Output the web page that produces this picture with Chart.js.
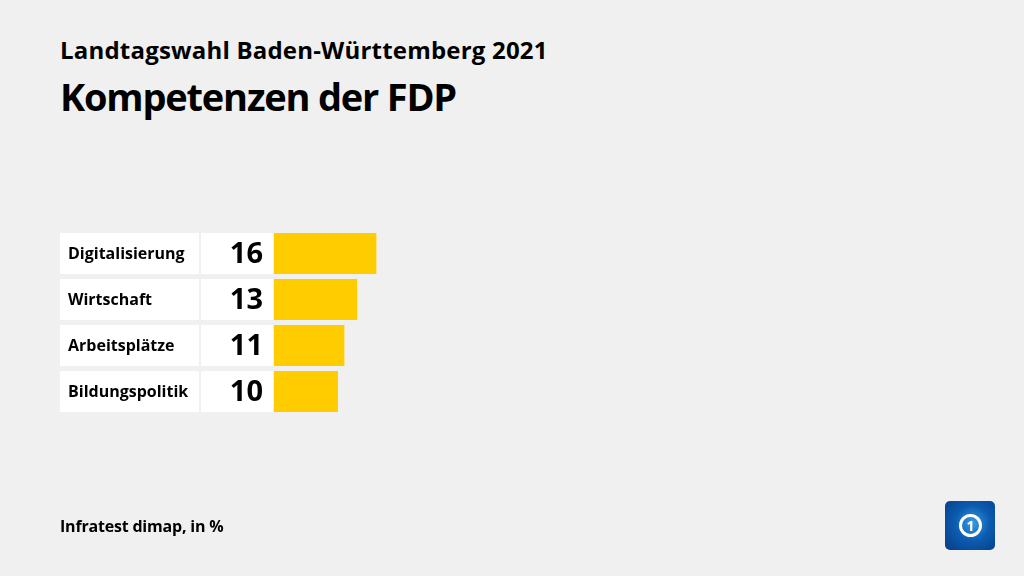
<!DOCTYPE html>
<html>
<head>
<meta charset="utf-8">
<script src="https://cdn.jsdelivr.net/npm/chart.js@4"></script>
<style>
    html, body {
        margin: 0;
        padding: 0;
        background: #f0f0f0;
        font-family: 'Open Sans', sans-serif;
    }
    #wrap {
        position: relative;
        width: 1024px;
        height: 576px;
        overflow: hidden;
    }
    #chart {
        position: absolute;
        left: 0;
        top: 0;
    }
    .txt {
        position: absolute;
        left: 60px;
        color: #000;
        white-space: nowrap;
        font-weight: 700;
    }
    #subtitle { top: 33px; font-size: 24px; letter-spacing: 0.2px; }
    #title { top: 70px; font-size: 38px; letter-spacing: -1.2px; }
    #source { top: 515px; font-size: 16px; letter-spacing: -0.2px; }
    #logo {
        position: absolute;
        left: 945px;
        top: 501px;
        width: 50px;
        height: 49px;
        border-radius: 5px;
        background: radial-gradient(circle at 55% 45%, #3a9be0 0%, #0b5cb0 45%, #063c86 100%);
    }
    #logo-ring {
        position: absolute;
        left: 14px;
        top: 13px;
        width: 17px;
        height: 17px;
        border: 3px solid #fff;
        border-radius: 50%;
        color: #fff;
        font: bold 14px 'Open Sans', sans-serif;
        text-align: center;
        line-height: 17px;
    }
</style>
</head>
<body>
<div id="wrap">
    <div class="txt" id="subtitle">Landtagswahl Baden-Württemberg 2021</div>
    <div class="txt" id="title">Kompetenzen der FDP</div>
    <canvas id="chart" width="1024" height="576"></canvas>
    <div class="txt" id="source">Infratest dimap, in %</div>
    <div id="logo"><div id="logo-ring">1</div></div>
</div>
<script>
const categories = ['Digitalisierung', 'Wirtschaft', 'Arbeitsplätze', 'Bildungspolitik'];
const values = [16, 13, 11, 10];
const barColor = '#ffcc00';

// Label boxes and value boxes to the left of the bars
const rowBoxes = {
    id: 'rowBoxes',
    beforeDatasetsDraw(chart) {
        const ctx = chart.ctx;
        const yScale = chart.scales.y;
        const half = 20.5;
        ctx.save();
        categories.forEach((name, i) => {
            const y = yScale.getPixelForValue(i);
            ctx.fillStyle = '#ffffff';
            ctx.fillRect(60, y - half, 139, half * 2);
            ctx.fillRect(201, y - half, 72, half * 2);

            ctx.fillStyle = '#000000';
            ctx.textBaseline = 'middle';
            ctx.textAlign = 'left';
            ctx.font = 'bold 16px "Open Sans", sans-serif';
            ctx.fillText(name, 68, y + 1);

            ctx.textAlign = 'right';
            ctx.font = 'bold 29px "Open Sans", sans-serif';
            ctx.fillText(String(values[i]), 263, y + 1);
        });
        ctx.restore();
    }
};

new Chart(document.getElementById('chart'), {
    type: 'bar',
    data: {
        labels: categories,
        datasets: [{
            data: values,
            backgroundColor: barColor,
            borderWidth: 0,
            categoryPercentage: 1,
            barPercentage: 41 / 46
        }]
    },
    options: {
        indexAxis: 'y',
        responsive: false,
        animation: false,
        layout: {
            padding: { left: 274, right: 110, top: 230.5, bottom: 161.5 }
        },
        scales: {
            x: { display: false, min: 0, max: 100 },
            y: { display: false }
        },
        plugins: {
            legend: { display: false },
            tooltip: { enabled: false }
        }
    },
    plugins: [rowBoxes]
});
</script>
</body>
</html>
